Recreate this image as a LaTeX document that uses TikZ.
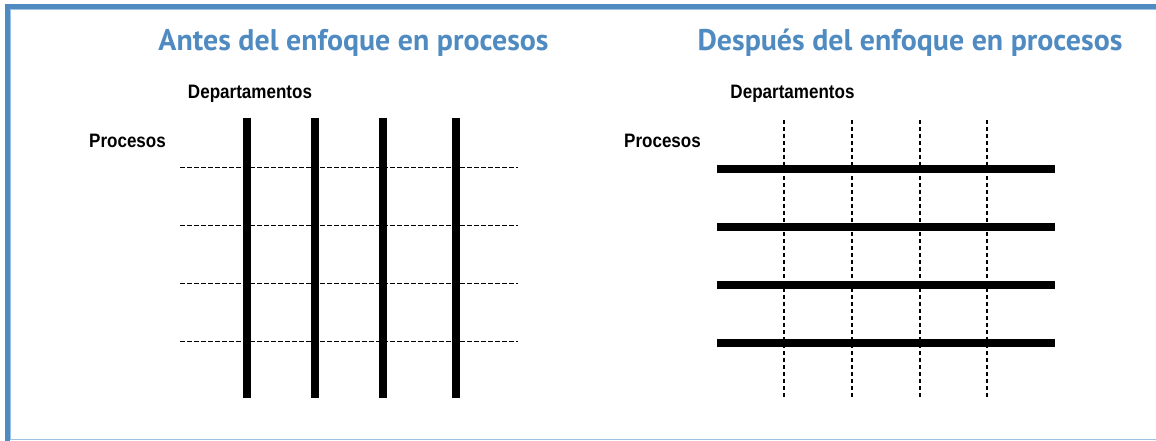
\documentclass[tikz,border=0pt]{standalone}
\usepackage{fontspec}
\setmainfont{Liberation Sans}
\newfontfamily\titlefont{PT Sans}
\definecolor{bandblue}{HTML}{4F8BC0}
\definecolor{lightblue}{HTML}{9CC2E5}
\definecolor{titleblue}{HTML}{4F8BC1}
\newcommand{\narrowtext}[1]{\scalebox{0.877}[1]{#1}}
\begin{document}
\begin{tikzpicture}[x=1bp,y=-1bp,
  dept/.style={line width=8bp,black},
  grid/.style={line width=1bp,black,dash pattern=on 5bp off 2bp},
  vgrid/.style={line width=1.3bp,black,dash pattern=on 4bp off 3bp},
  ttl/.style={font=\titlefont\bfseries\fontsize{30}{34}\selectfont,text=titleblue,inner sep=0pt,anchor=base},
  lbl/.style={font=\bfseries\fontsize{19.5}{22}\selectfont,inner sep=0pt,anchor=base}]
\useasboundingbox (0,0) rectangle (1156,441);
% frame
\fill[bandblue] (5,4) rectangle (1156,9);
\fill[bandblue] (5,4) rectangle (10,441);
\draw[lightblue,line width=1bp] (10,9.5) -- (1156,9.5);
\draw[lightblue,line width=1bp] (10.5,10) -- (10.5,439);
\draw[lightblue,line width=1.5bp] (10,439.5) -- (1156,439.5);
% titles
\node[ttl] (t1) at (353.5,51) {Antes del enfoque en procesos};
\node[ttl] (t2) at (910,51) {Después del enfoque en procesos};
% labels
\node[lbl] (d1) at (250,98.3) {\narrowtext{Departamentos}};
\node[lbl] (p1) at (127.5,147.7) {\narrowtext{Procesos}};
\node[lbl] (d2) at (792.5,98.3) {\narrowtext{Departamentos}};
\node[lbl] (p2) at (662.5,147.7) {\narrowtext{Procesos}};
% left panel
\foreach \y in {168,226,284,342} \draw[grid] (180,\y) -- (518,\y);
\foreach \x in {247,314.5,382.5,456} \draw[dept] (\x,118) -- (\x,398);
% right panel
\foreach \x in {784,852,920,987} \draw[vgrid] (\x,120) -- (\x,400);
\foreach \y in {169,227,285,343} \draw[dept] (717,\y) -- (1055,\y);
\end{tikzpicture}
\end{document}
